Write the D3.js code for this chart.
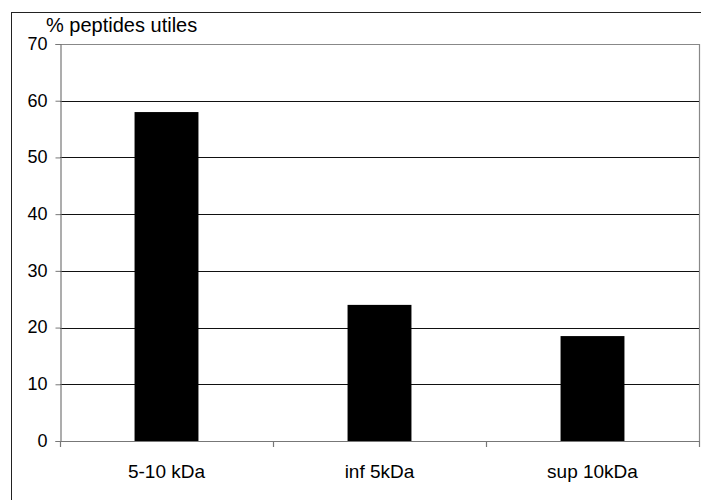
<!DOCTYPE html>
<html>
<head>
<meta charset="utf-8">
<script src="https://cdn.jsdelivr.net/npm/d3@7"></script>
<style>
  html, body { margin: 0; padding: 0; background: #fff; }
  svg { display: block; }
  text { font-family: Arial, "Liberation Sans", sans-serif; fill: #000; }
</style>
</head>
<body>
<div id="chart"></div>
<script>
const categories = ["5-10 kDa", "inf 5kDa", "sup 10kDa"];
const values = [58, 24, 18.5];
const yTicks = [0, 10, 20, 30, 40, 50, 60, 70];
const yTitle = "% peptides utiles";

const W = 701, H = 500;
const plot = { left: 60, right: 699, top: 44, bottom: 441 };

const svg = d3.select("#chart").append("svg")
  .attr("width", W).attr("height", H);

svg.append("rect").attr("width", W).attr("height", H).attr("fill", "#fff");

// outer frame (extends beyond the visible area on right/bottom)
svg.append("rect")
  .attr("x", 11.5).attr("y", 12.5)
  .attr("width", W + 20).attr("height", H + 20)
  .attr("fill", "none").attr("stroke", "#222").attr("stroke-width", 1);

const x = d3.scaleBand().domain(categories)
  .range([plot.left, plot.right])
  .paddingInner(0.7).paddingOuter(0.35);
const y = d3.scaleLinear().domain([0, 70]).range([plot.bottom, plot.top]);

// plot border (top, right) in gray
svg.append("path")
  .attr("d", `M${plot.left},${plot.top + 0.5}H${plot.right + 0.5}V${plot.bottom}`)
  .attr("fill", "none").attr("stroke", "#888").attr("stroke-width", 1.2);

// gridlines
svg.append("g").selectAll("line")
  .data(yTicks.filter(d => d > 0 && d < 70))
  .join("line")
  .attr("x1", plot.left).attr("x2", plot.right)
  .attr("y1", d => Math.round(y(d)) + 0.5).attr("y2", d => Math.round(y(d)) + 0.5)
  .attr("stroke", "#111").attr("stroke-width", 1);

// bars
svg.append("g").selectAll("rect")
  .data(values)
  .join("rect")
  .attr("x", (d, i) => x(categories[i]))
  .attr("width", x.bandwidth())
  .attr("y", d => y(d))
  .attr("height", d => y(0) - y(d))
  .attr("fill", "#000");

// y axis
const yAxis = d3.axisLeft(y).tickValues(yTicks).tickSize(5).tickPadding(8)
  .tickFormat(d3.format("d"));
const gy = svg.append("g").attr("transform", `translate(${plot.left + 0.5},0)`).call(yAxis);
gy.select(".domain").attr("stroke", "#777").attr("stroke-width", 1.2);
gy.selectAll(".tick line").attr("stroke", "#777");
gy.selectAll(".tick text")
  .style("font-size", "18px")
  .attr("dy", "0.3em")
  .attr("fill", "#000");

// x axis with ticks at band boundaries
const step = x.step();
const boundaries = categories.map(c => x(c) - step * x.paddingInner() / 2)
  .concat([x(categories[categories.length - 1]) + x.bandwidth() + step * x.paddingInner() / 2]);
const gx = svg.append("g");
gx.append("line")
  .attr("x1", plot.left).attr("x2", plot.right + 0.5)
  .attr("y1", plot.bottom + 0.5).attr("y2", plot.bottom + 0.5)
  .attr("stroke", "#777").attr("stroke-width", 1.2);
gx.selectAll("line.t")
  .data(boundaries)
  .join("line").attr("class", "t")
  .attr("x1", d => Math.round(d) + 0.5).attr("x2", d => Math.round(d) + 0.5)
  .attr("y1", plot.bottom).attr("y2", plot.bottom + 6)
  .attr("stroke", "#777").attr("stroke-width", 1.2);
gx.selectAll("text")
  .data(categories)
  .join("text")
  .attr("x", d => x(d) + x.bandwidth() / 2)
  .attr("y", 478)
  .attr("text-anchor", "middle")
  .style("font-size", "19px")
  .text(d => d);

// y title
svg.append("text")
  .attr("x", 46).attr("y", 32)
  .style("font-size", "20px")
  .text(yTitle);
</script>
</body>
</html>
